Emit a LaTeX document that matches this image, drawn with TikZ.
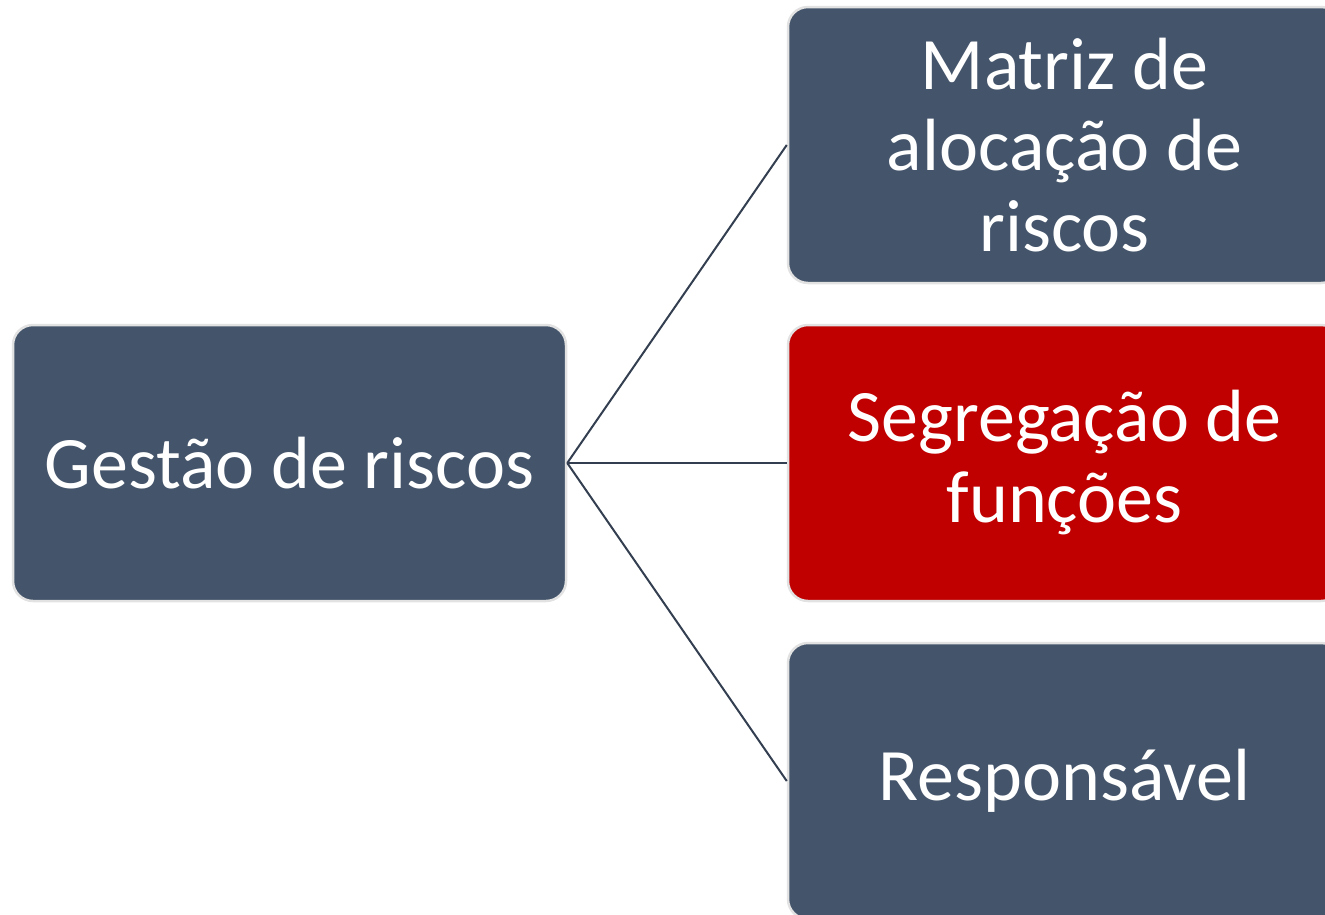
\documentclass[tikz,border=0pt]{standalone}
\usepackage{fontspec}
\setmainfont{Carlito}
\definecolor{slate}{HTML}{44546A}
\definecolor{darkred}{HTML}{C00000}
\definecolor{rim}{HTML}{E2E2E2}
\definecolor{wire}{HTML}{333F50}
\begin{document}
\begin{tikzpicture}[x=1pt,y=-1pt,
  box/.style={draw=rim, line width=2.5pt, rounded corners=20pt, minimum width=553pt, minimum height=276pt,
    inner sep=0pt, text=white, align=center, font=\fontsize{74}{81}\selectfont, anchor=center},
  wireline/.style={draw=wire, line width=2pt}]
\useasboundingbox (0,0) rectangle (1325,914);
\clip (0,0) rectangle (1325,914);
\node[box, fill=slate] (g) at (289.5,463) {Gestão de riscos};
\node[box, fill=slate] (m) at (1064.5,145) {Matriz de\\alocação de\\riscos};
\node[box, fill=darkred] (s) at (1064.5,463) {Segregação de\\funções};
\node[box, fill=slate] (r) at (1064.5,781) {Responsável};
\draw[wireline] (g.east) -- (m.west);
\draw[wireline] (g.east) -- (s.west);
\draw[wireline] (g.east) -- (r.west);
\end{tikzpicture}
\end{document}
